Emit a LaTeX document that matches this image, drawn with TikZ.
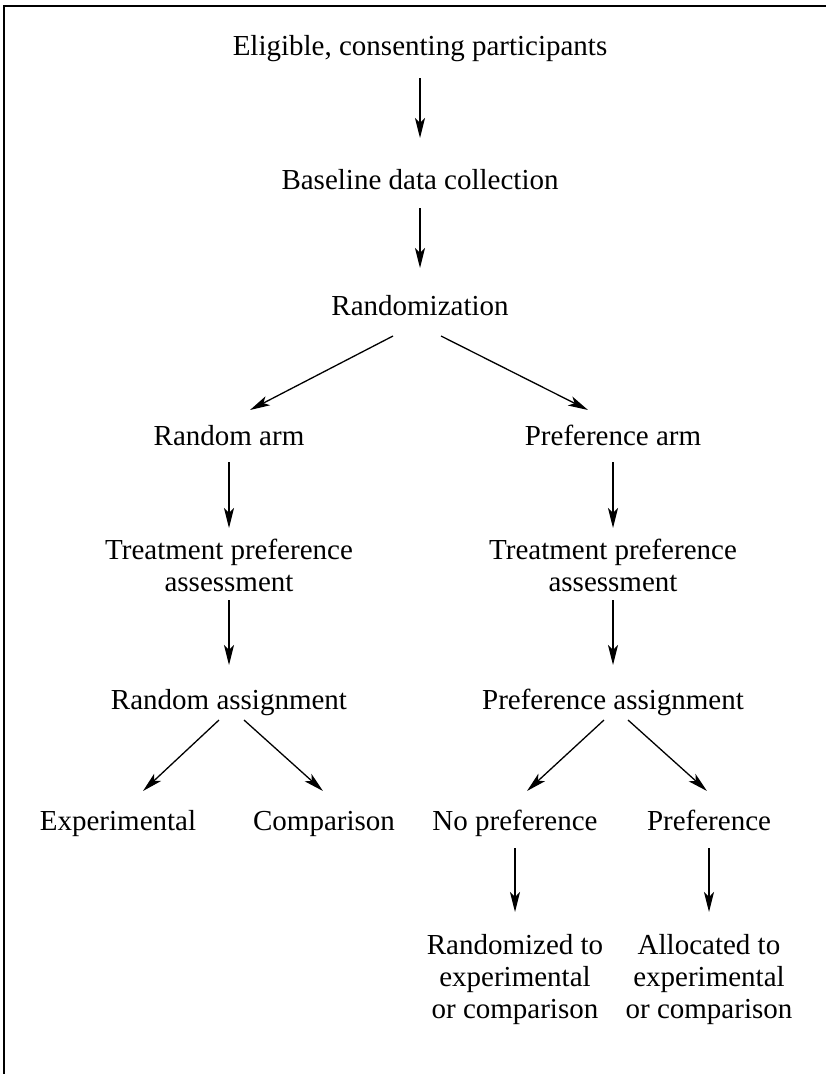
\documentclass[tikz,border=0pt]{standalone}
\usepackage{fontspec}
\setmainfont{Liberation Serif}
\usetikzlibrary{arrows.meta,calc}
\begin{document}
\begin{tikzpicture}[x=1pt,y=-1pt,
  lbl/.style={font=\fontsize{29}{32}\selectfont, align=center, inner sep=0pt},
  one/.style={lbl, text height=0.7em, text depth=0.25em},
  arr/.style={line width=1.3pt, -{Stealth[length=20pt,width=10pt,inset=5pt]}},
  frame/.style={line width=2pt}]
\useasboundingbox (0,0) rectangle (826,1074);
\draw[frame] (3.5,1074) -- (3.5,5.5) -- (826,5.5);

\node[one] (elig) at (420,53) {Eligible, consenting participants};
\node[one] (base) at (420,187) {Baseline data collection};
\node[one] (rand) at (420,313) {Randomization};
\node[one] (rarm) at (229,443) {Random arm};
\node[one] (parm) at (613,443) {Preference arm};
\node[lbl] (rtpa) at (229,565) {Treatment preference\\assessment};
\node[lbl] (ptpa) at (613,565) {Treatment preference\\assessment};
\node[one] (rass) at (229,707) {Random assignment};
\node[one] (pass) at (613,707) {Preference assignment};
\node[one] (exp) at (118,828) {Experimental};
\node[one] (comp) at (324,828) {Comparison};
\node[one] (nopr) at (515,828) {No preference};
\node[one] (pref) at (709,828) {Preference};
\node[lbl] (rtoe) at (515,980) {Randomized to\\experimental\\or comparison};
\node[lbl] (atoe) at (709,980) {Allocated to\\experimental\\or comparison};

\draw[arr] (elig.south |- 0,78) -- (elig.south |- 0,138);
\draw[arr] (base.south |- 0,208) -- (base.south |- 0,268);
\draw[arr] ($(rand.center)+(-27,23)$) -- ($(rarm.center)+(21,-33)$);
\draw[arr] ($(rand.center)+(21,23)$) -- ($(parm.center)+(-25,-33)$);
\draw[arr] (rarm.center |- 0,462) -- (rarm.center |- 0,528);
\draw[arr] (parm.center |- 0,462) -- (parm.center |- 0,528);
\draw[arr] (rtpa.center |- 0,600) -- (rtpa.center |- 0,665);
\draw[arr] (ptpa.center |- 0,600) -- (ptpa.center |- 0,665);
\draw[arr] ($(rass.center)+(-10,13)$) -- ($(exp.center)+(25,-37)$);
\draw[arr] ($(rass.center)+(15,13)$) -- ($(comp.center)+(-1,-37)$);
\draw[arr] ($(pass.center)+(-9,13)$) -- ($(nopr.center)+(12,-37)$);
\draw[arr] ($(pass.center)+(15,13)$) -- ($(pref.center)+(-2,-37)$);
\draw[arr] (nopr.center |- 0,848) -- (nopr.center |- 0,912);
\draw[arr] (pref.center |- 0,848) -- (pref.center |- 0,912);
\end{tikzpicture}
\end{document}
